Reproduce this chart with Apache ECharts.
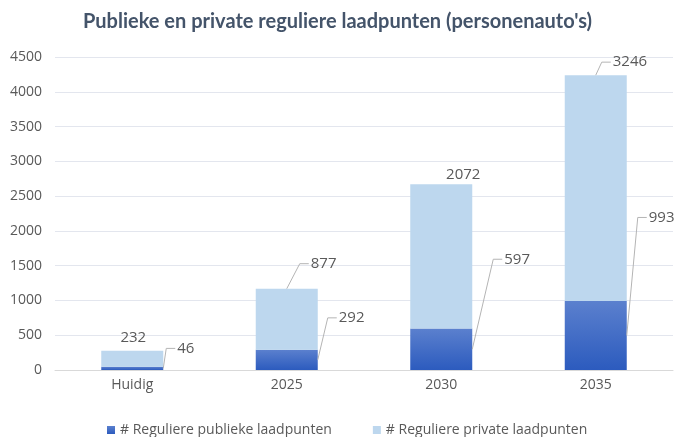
<!DOCTYPE html>
<html><head><meta charset="utf-8">
<script src="https://cdn.jsdelivr.net/npm/echarts@6/dist/echarts.min.js"></script>
<style>html,body{margin:0;padding:0;background:#fff}#c{width:675px;height:437px}</style>
</head><body><div id="c"></div>
<script>
const categories = ['Huidig', '2025', '2030', '2035'];
const publiek = [46, 292, 597, 993];
const prive = [232, 877, 2072, 3246];
const yTicks = [0, 500, 1000, 1500, 2000, 2500, 3000, 3500, 4000, 4500];
const seriesNames = ['# Reguliere publieke laadpunten', '# Reguliere private laadpunten'];

// label layout (pixel offsets only, relative to each bar)
const BAR_W = 62;
const pubElbow = [[3, -20], [10, -42], [21, -90], [11, -118]];   // from right edge, segment middle
const privElbow = [null, [13, -25], null, [6, -13]];               // from top centre
const privPlain = [[1, -13], null, [22, -10], null];               // label centre, no leader line

const labelColor = '#595959';
const lineColor = '#B4B4B4';

// leader / label items: [categoryIndex, anchorValue, labelValue, kind(0 public, 1 private)]
const leaderData = [];
categories.forEach(function (c, i) {
  leaderData.push([i, publiek[i] / 2, publiek[i], 0]);
  leaderData.push([i, publiek[i] + prive[i], prive[i], 1]);
});

function renderLeader(params, api) {
  const i = api.value(0);
  const kind = api.value(3);
  const txt = String(api.value(2));
  const p = api.coord([i, api.value(1)]);
  const font = { fill: labelColor, fontSize: 15, fontFamily: 'Open Sans' };
  const children = [];
  let ax, ay, el;
  if (kind === 0) {
    ax = p[0] + BAR_W / 2; ay = p[1]; el = pubElbow[i];
  } else {
    ax = p[0]; ay = p[1]; el = privElbow[i];
    if (!el) {
      const o = privPlain[i];
      children.push({ type: 'text', style: Object.assign({ text: txt, x: ax + o[0], y: ay + o[1], align: 'center', verticalAlign: 'middle' }, font) });
      return { type: 'group', children: children };
    }
  }
  const ex = ax + el[0], ey = ay + el[1];
  children.push({ type: 'polyline', shape: { points: [[ax, ay], [ex, ey], [ex + 9, ey]] }, style: { stroke: lineColor, lineWidth: 1, fill: null } });
  children.push({ type: 'text', style: Object.assign({ text: txt, x: ex + 11, y: ey, align: 'left', verticalAlign: 'middle' }, font) });
  return { type: 'group', children: children };
}

const chart = echarts.init(document.getElementById('c'));
chart.setOption({
  animation: false,
  title: {
    text: "Publieke en private reguliere laadpunten (personenauto's)",
    left: 'center', top: 7,
    textStyle: { fontFamily: 'Lato', fontWeight: 'bold', fontSize: 20, color: '#44546A' }
  },
  grid: { left: 55, right: 2, top: 57, bottom: 67 },
  legend: {
    top: 418, left: 102, itemWidth: 8, itemHeight: 8, itemGap: 41,
    icon: 'rect',
    textStyle: { color: labelColor, fontSize: 14, fontFamily: 'Open Sans' },
    data: seriesNames
  },
  xAxis: {
    type: 'category', data: categories,
    axisLine: { show: true, lineStyle: { color: '#D9D9D9' } },
    axisTick: { show: false },
    axisLabel: { color: labelColor, fontSize: 14, margin: 8, fontFamily: 'Open Sans' }
  },
  yAxis: {
    type: 'value', min: yTicks[0], max: yTicks[yTicks.length - 1], interval: 500,
    axisLine: { show: false }, axisTick: { show: false },
    splitLine: { lineStyle: { color: '#E3E6EE' } },
    axisLabel: { color: labelColor, fontSize: 14, margin: 13, fontFamily: 'Open Sans',
      formatter: function (v) { return String(v); } }
  },
  series: [
    {
      name: seriesNames[0], type: 'bar', stack: 't', barWidth: BAR_W, data: publiek,
      itemStyle: {
        color: new echarts.graphic.LinearGradient(0, 0, 0, 1, [
          { offset: 0, color: '#5B80CE' }, { offset: 1, color: '#2C5BBE' }
        ])
      }
    },
    {
      name: seriesNames[1], type: 'bar', stack: 't', barWidth: BAR_W, data: prive,
      itemStyle: { color: '#BDD7EE' }
    },
    {
      type: 'custom', name: 'labels', clip: false, silent: true, z: 5,
      data: leaderData, renderItem: renderLeader,
      encode: { x: 0, y: 1 }
    }
  ]
});
</script></body></html>
